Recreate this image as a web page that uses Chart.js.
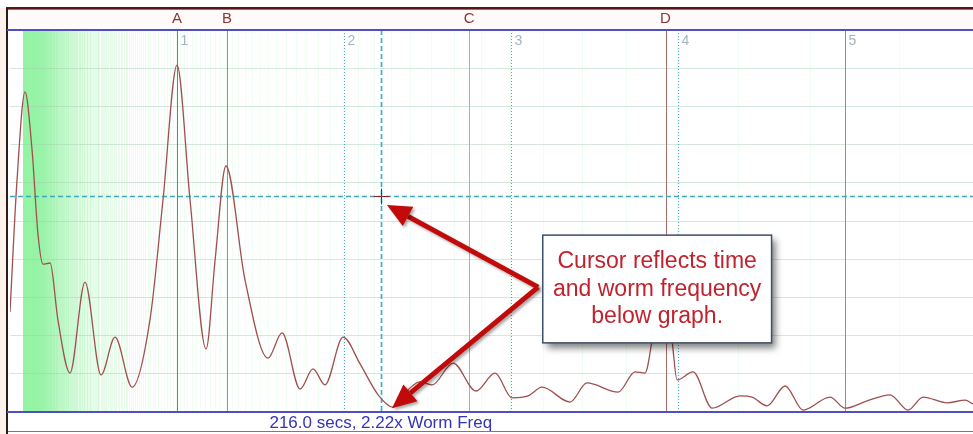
<!DOCTYPE html>
<html lang="en">
<head>
  <meta charset="UTF-8">
  <title>Worm Frequency Spectrum</title>
  <style>
    html, body { margin: 0; padding: 0; background: #fff; }
    #wrap { position: relative; width: 973px; height: 434px; }
  </style>
</head>
<body>
  <div id="wrap"><canvas id="chart"></canvas></div>

  <script src="https://cdn.jsdelivr.net/npm/chart.js"></script>
  <script>
    // spectrum trace: x in multiples of worm frequency, y in grid divisions
    const specX = [0.000, 0.042, 0.090, 0.132, 0.168, 0.198, 0.240, 0.287, 0.359, 0.449, 0.545, 0.629, 0.731, 0.838, 0.916,
      1.000, 1.078, 1.174, 1.228, 1.293, 1.407, 1.545, 1.629, 1.737, 1.814, 1.886, 1.994, 2.096, 2.204, 2.293, 2.395,
      2.455, 2.527, 2.653, 2.790, 2.904, 3.006, 3.102, 3.186, 3.353, 3.455, 3.641, 3.743, 3.802, 3.844, 3.904, 3.964,
      3.994, 4.090, 4.204, 4.371, 4.443, 4.533, 4.641, 4.749, 4.910, 5.000, 5.132, 5.269, 5.377, 5.467, 5.611, 5.719, 5.766];
    const specY = [2.62, 6.07, 8.38, 6.86, 4.63, 3.87, 3.90, 2.41, 1.02, 3.40, 0.97, 1.96, 0.65, 2.41, 5.55,
      9.08, 5.55, 1.65, 3.98, 6.44, 3.46, 1.41, 2.07, 0.60, 1.13, 0.71, 1.96, 1.26, 0.45, 0.13, 0.63,
      0.79, 0.71, 1.28, 0.55, 1.02, 0.37, 0.42, 0.65, 0.26, 0.76, 0.52, 1.05, 1.02, 1.88, 3.98, 1.88,
      0.84, 1.05, 0.10, 0.42, 0.39, 0.16, 0.68, 0.05, 0.39, 0.10, 0.29, 0.45, 0.05, 0.39, 0.24, 0.31, 0.21];

    // lettered markers
    const markerNames = ['A', 'B', 'C', 'D'];
    const markerFreqs = [1.00, 1.30, 2.75, 3.925];
    const markerColors = ['#4e8f96', '#b98383', '#caa2a2', '#a96a6a'];

    // worm frequency harmonics
    const harmonics = [1, 2, 3, 4, 5];
    const harmonicLabels = ['1', '2', '3', '4', '5'];
    const harmonicDotted = [false, true, true, true, false];

    // cursor readout
    const cursorFreq = 2.22;
    const cursorLevel = 5.65;
    const cursorSecs = 216.0;

    // vertical grid is drawn at fixed periods (seconds)
    const wormPeriod = cursorSecs * cursorFreq;
    const gridMinSecs = 90;
    const gridMaxSecs = 6000;
    const gridStepSecs = 10;

    const noteLines = ['Cursor reflects time', 'and worm frequency', 'below graph.'];
    const noteBox = { x1: 3.19, x2: 4.56, yTop: 4.63, yBottom: 1.81 };
    const noteVertex = { x: 3.162, y: 3.27 };
    const noteTips = [{ x: 2.257, y: 5.42 }, { x: 2.287, y: 0.10 }];

    const FONT = 'Arial, "Liberation Sans", sans-serif';

    const gridPeriods = [];
    for (let t = gridMaxSecs; t >= gridMinSecs; t -= gridStepSecs) gridPeriods.push(t);

    const points = specX.map((x, i) => ({ x, y: specY[i] }));

    const frame = {
      id: 'frame',
      beforeDraw(chart) {
        const { ctx, width, height, chartArea: a } = chart;
        ctx.save();
        ctx.fillStyle = '#ffffff';
        ctx.fillRect(0, 0, width, height);
        ctx.fillStyle = '#fdf3ea';
        ctx.fillRect(0, 8, 6, height - 8);
        ctx.fillStyle = '#fffbfb';
        ctx.fillRect(7, 10, width, a.top - 10);
        ctx.restore();
      },
      afterDraw(chart) {
        const { ctx, width, height, chartArea: a, scales: { x } } = chart;
        ctx.save();
        // outer border
        ctx.strokeStyle = '#5e1414';
        ctx.lineWidth = 2;
        ctx.beginPath(); ctx.moveTo(6, 8); ctx.lineTo(width, 8); ctx.stroke();
        ctx.strokeStyle = '#e05050';
        ctx.lineWidth = 1;
        ctx.beginPath(); ctx.moveTo(7, 9.5); ctx.lineTo(width, 9.5); ctx.stroke();
        ctx.beginPath(); ctx.moveTo(7, 431.5); ctx.lineTo(width, 431.5); ctx.stroke();
        ctx.strokeStyle = '#2a1c1c';
        ctx.lineWidth = 2;
        ctx.beginPath(); ctx.moveTo(7, 8); ctx.lineTo(7, height); ctx.stroke();

        // plot bounds
        ctx.strokeStyle = '#4f4fc4';
        ctx.lineWidth = 2;
        ctx.beginPath(); ctx.moveTo(7, a.top); ctx.lineTo(width, a.top); ctx.stroke();
        ctx.beginPath(); ctx.moveTo(7, a.bottom); ctx.lineTo(width, a.bottom); ctx.stroke();

        // marker letters
        ctx.font = '15px ' + FONT;
        ctx.fillStyle = '#8c3434';
        ctx.textAlign = 'center';
        ctx.textBaseline = 'middle';
        markerNames.forEach((n, i) => ctx.fillText(n, x.getPixelForValue(markerFreqs[i]), 19));

        // cursor readout
        ctx.font = '17px ' + FONT;
        ctx.fillStyle = '#3535b5';
        ctx.textBaseline = 'alphabetic';
        ctx.fillText(cursorSecs.toFixed(1) + ' secs, ' + cursorFreq.toFixed(2) + 'x Worm Freq',
          x.getPixelForValue(cursorFreq), 428);
        ctx.restore();
      }
    };

    const markers = {
      id: 'markers',
      beforeDatasetsDraw(chart) {
        const { ctx, chartArea: a, scales: { x, y } } = chart;
        ctx.save();
        ctx.lineWidth = 1;
        markerFreqs.forEach((f, i) => {
          const px = Math.round(x.getPixelForValue(f)) + 0.5;
          ctx.strokeStyle = markerColors[i];
          ctx.beginPath(); ctx.moveTo(px, a.top); ctx.lineTo(px, a.bottom); ctx.stroke();
        });

        ctx.font = '14px ' + FONT;
        ctx.fillStyle = '#a2b6be';
        ctx.textAlign = 'left';
        ctx.textBaseline = 'top';
        harmonics.forEach((h, i) => {
          const px = Math.round(x.getPixelForValue(h)) + 0.5;
          ctx.strokeStyle = harmonicDotted[i] ? '#45a9b1' : (h === 1 ? '#4e8f96' : '#5aa6aa');
          ctx.setLineDash(harmonicDotted[i] ? [1, 2] : []);
          ctx.beginPath(); ctx.moveTo(px, a.top); ctx.lineTo(px, a.bottom); ctx.stroke();
          ctx.fillText(harmonicLabels[i], px + 3, a.top + 4);
        });

        // cursor
        const cx = Math.round(x.getPixelForValue(cursorFreq)) + 0.5;
        const cy = Math.round(y.getPixelForValue(cursorLevel)) + 0.5;
        ctx.strokeStyle = '#22b6c8';
        ctx.lineWidth = 1.6;
        ctx.setLineDash([5, 3]);
        ctx.beginPath(); ctx.moveTo(cx, a.top); ctx.lineTo(cx, a.bottom); ctx.stroke();
        ctx.strokeStyle = '#3fa8ba';
        ctx.lineWidth = 1.3;
        ctx.beginPath(); ctx.moveTo(a.left, cy); ctx.lineTo(a.right, cy); ctx.stroke();
        ctx.setLineDash([]);
        ctx.strokeStyle = '#8a2222';
        ctx.lineWidth = 1;
        ctx.beginPath();
        ctx.moveTo(cx - 8, cy); ctx.lineTo(cx + 8, cy);
        ctx.moveTo(cx, cy - 8); ctx.lineTo(cx, cy + 8);
        ctx.stroke();
        ctx.restore();
      }
    };

    function arrow(ctx, x0, y0, x1, y1) {
      const ang = Math.atan2(y1 - y0, x1 - x0);
      const len = 24, half = 11;
      const bx = x1 - Math.cos(ang) * len, by = y1 - Math.sin(ang) * len;
      ctx.beginPath(); ctx.moveTo(x0, y0); ctx.lineTo(bx, by); ctx.stroke();
      ctx.beginPath();
      ctx.moveTo(x1, y1);
      ctx.lineTo(bx + Math.sin(ang) * half, by - Math.cos(ang) * half);
      ctx.lineTo(bx - Math.sin(ang) * half, by + Math.cos(ang) * half);
      ctx.closePath();
      ctx.fill();
    }

    const note = {
      id: 'note',
      afterDraw(chart) {
        const { ctx, scales: { x, y } } = chart;
        ctx.save();
        ctx.shadowColor = 'rgba(0,0,0,0.35)';
        ctx.shadowBlur = 3;
        ctx.shadowOffsetX = 2;
        ctx.shadowOffsetY = 2;
        ctx.strokeStyle = '#c20a0a';
        ctx.fillStyle = '#c20a0a';
        ctx.lineWidth = 5;
        ctx.lineJoin = 'miter';
        const vx = x.getPixelForValue(noteVertex.x), vy = y.getPixelForValue(noteVertex.y);
        noteTips.forEach(t => arrow(ctx, vx, vy, x.getPixelForValue(t.x), y.getPixelForValue(t.y)));

        const bx1 = x.getPixelForValue(noteBox.x1), bx2 = x.getPixelForValue(noteBox.x2);
        const by1 = y.getPixelForValue(noteBox.yTop), by2 = y.getPixelForValue(noteBox.yBottom);
        ctx.shadowColor = 'rgba(0,0,0,0.5)';
        ctx.shadowBlur = 7;
        ctx.shadowOffsetX = 4;
        ctx.shadowOffsetY = 5;
        ctx.fillStyle = '#ffffff';
        ctx.fillRect(bx1, by1, bx2 - bx1, by2 - by1);
        ctx.shadowColor = 'transparent';
        ctx.strokeStyle = '#3e5169';
        ctx.lineWidth = 1.5;
        ctx.strokeRect(bx1, by1, bx2 - bx1, by2 - by1);

        ctx.font = '23px ' + FONT;
        ctx.fillStyle = '#c0232e';
        ctx.textAlign = 'center';
        ctx.textBaseline = 'alphabetic';
        noteLines.forEach((s, i) => ctx.fillText(s, (bx1 + bx2) / 2, by1 + 33 + i * 27.5));
        ctx.restore();
      }
    };

    // low-frequency (long period) grid lines are drawn stronger
    function gridColor(c) {
      const v = c.tick ? c.tick.value : 1;
      const a = v < 1 ? 0.15 + 0.2 * (1 - v) : 0.15;
      return 'rgba(150, 242, 165, ' + a.toFixed(3) + ')';
    }

    new Chart(document.getElementById('chart'), {
      type: 'line',
      data: {
        datasets: [{
          data: points,
          borderColor: '#a04f4f',
          borderWidth: 1.3,
          pointRadius: 0,
          fill: false,
          cubicInterpolationMode: 'monotone'
        }]
      },
      options: {
        responsive: true,
        maintainAspectRatio: false,
        animation: false,
        events: [],
        layout: { padding: { left: 10, top: 30, right: 0, bottom: 22 } },
        plugins: { legend: { display: false }, tooltip: { enabled: false } },
        scales: {
          x: {
            type: 'linear',
            min: 0,
            max: 5.766,
            afterBuildTicks: (scale) => {
              scale.ticks = gridPeriods.map(t => ({ value: wormPeriod / t }));
            },
            ticks: { display: false },
            border: { display: false },
            grid: { color: gridColor, drawTicks: false }
          },
          y: {
            min: 0,
            max: 10,
            ticks: { display: false, stepSize: 1 },
            border: { display: false },
            grid: { color: 'rgba(165, 205, 175, 0.45)', drawTicks: false }
          }
        }
      },
      plugins: [frame, markers, note]
    });
  </script>
</body>
</html>
